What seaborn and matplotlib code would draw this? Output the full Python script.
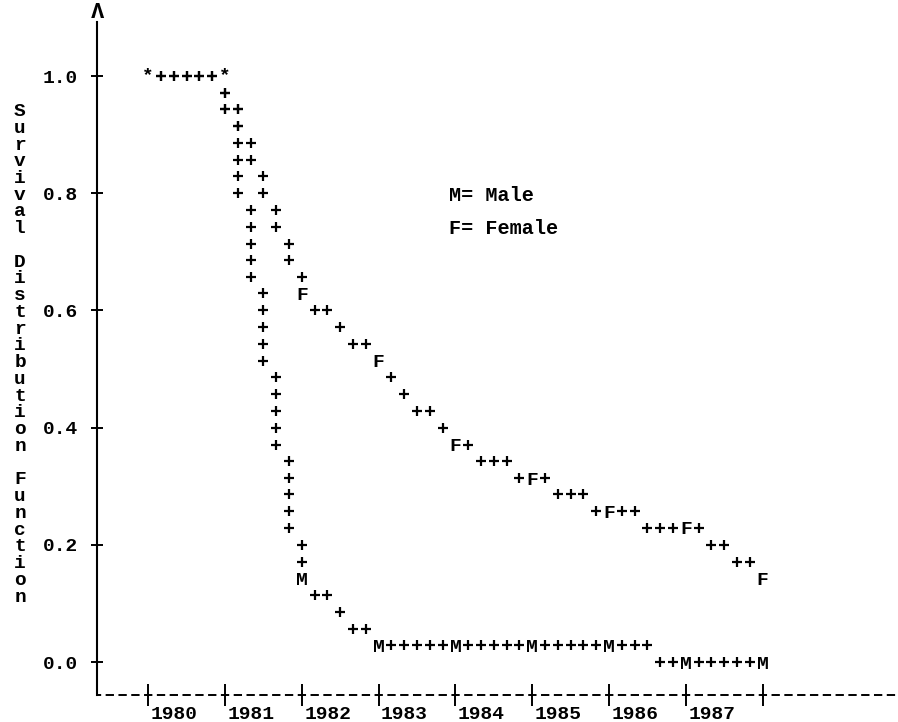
import matplotlib
matplotlib.use('Agg')
import matplotlib.pyplot as plt
import matplotlib.transforms as mtransforms
import pandas as pd
import seaborn as sns

# ── values ───────────────────────────────────────────────────────────────
# '+' steps of each curve: months since Jan 1980, survival estimate
male_months = [2, 4, 6, 8, 10, 12, 12, 14, 14, 14, 14, 14, 14,
               16, 16, 16, 16, 16, 18, 18, 18, 18, 18,
               20, 20, 20, 20, 20, 22, 22, 22, 22, 22, 24, 24,
               26, 28, 30, 32, 34,
               38, 40, 42, 44, 46, 50, 52, 54, 56, 58,
               62, 64, 66, 68, 70, 74, 76, 78,
               80, 82, 86, 88, 90, 92, 94]
male_surv = [1.000, 1.000, 1.000, 1.000, 1.000, 0.971, 0.943, 0.943,
             0.914, 0.886, 0.857, 0.829, 0.800,
             0.771, 0.743, 0.714, 0.686, 0.657,
             0.629, 0.600, 0.571, 0.543, 0.514,
             0.486, 0.457, 0.429, 0.400, 0.371,
             0.343, 0.314, 0.286, 0.257, 0.229, 0.200, 0.171,
             0.114, 0.114, 0.086, 0.057, 0.057,
             0.029, 0.029, 0.029, 0.029, 0.029, 0.029, 0.029, 0.029, 0.029, 0.029,
             0.029, 0.029, 0.029, 0.029, 0.029, 0.029, 0.029, 0.029,
             0.000, 0.000, 0.000, 0.000, 0.000, 0.000, 0.000]

female_months = [2, 4, 6, 8, 10, 12, 12, 14, 14,
                 16, 16, 18, 18, 20, 20, 22, 22, 24,
                 26, 28, 30, 32, 34,
                 38, 40, 42, 44, 46, 50,
                 52, 54, 56, 58, 62, 64, 66, 68,
                 70, 74, 76, 78, 80, 82, 86,
                 88, 90, 92, 94]
female_surv = [1.000, 1.000, 1.000, 1.000, 1.000, 0.971, 0.943, 0.943, 0.914,
               0.886, 0.857, 0.829, 0.800, 0.771, 0.743, 0.714, 0.686, 0.657,
               0.600, 0.600, 0.571, 0.543, 0.543,
               0.486, 0.457, 0.429, 0.429, 0.400, 0.371,
               0.343, 0.343, 0.343, 0.314, 0.314, 0.286, 0.286, 0.286,
               0.257, 0.257, 0.257, 0.229, 0.229, 0.229, 0.229,
               0.200, 0.200, 0.171, 0.171]

# plotted symbols, one per January
symbol_years = [1980, 1981, 1982, 1983, 1984, 1985, 1986, 1987, 1988]
male_symbol_surv = [1.000, 1.000, 0.143, 0.029, 0.029, 0.029, 0.029, 0.000, 0.000]
female_symbol_surv = [1.000, 1.000, 0.629, 0.514, 0.371, 0.314, 0.257, 0.229, 0.143]

year_ticks = [1980, 1981, 1982, 1983, 1984, 1985, 1986, 1987, 1988]
year_labels = ['1980', '1981', '1982', '1983', '1984', '1985', '1986', '1987', '']
surv_ticks = [0.0, 0.2, 0.4, 0.6, 0.8, 1.0]
surv_labels = ['0.0', '0.2', '0.4', '0.6', '0.8', '1.0']
legend_lines = ['M= Male', 'F= Female']
y_title = 'Survival Distribution Function'

# ── style ────────────────────────────────────────────────────────────────
sns.set_style('white')
plt.rcParams['font.family'] = ['Liberation Mono', 'DejaVu Sans Mono']
plt.rcParams['font.weight'] = 'bold'
plt.rcParams['lines.scale_dashes'] = False
FS = 14
INK = 'black'

fig = plt.figure(figsize=(8.98, 7.22), dpi=100)
ax = fig.add_axes([0.1080, 0.0374, 0.8920, 0.9321])

steps = pd.concat([
    pd.DataFrame({'year': [1980 + m / 12 for m in male_months], 'surv': male_surv, 'sex': 'M'}),
    pd.DataFrame({'year': [1980 + m / 12 for m in female_months], 'surv': female_surv, 'sex': 'F'}),
])
sns.scatterplot(data=steps, x='year', y='surv', color=INK, marker='+',
                s=60, linewidth=1.6, edgecolor=None, legend=False, ax=ax)

# symbols: '*' where both groups share a point
for yr, sm, sf in zip(symbol_years, male_symbol_surv, female_symbol_surv):
    if sm == sf:
        ax.text(yr, sm, '*', ha='center', va='center', fontsize=FS, color=INK)
    else:
        ax.text(yr, sm, 'M', ha='center', va='center_baseline', fontsize=FS, color=INK)
        ax.text(yr, sf, 'F', ha='center', va='center_baseline', fontsize=FS, color=INK)

# legend block
for i, line in enumerate(legend_lines):
    ax.text(1983.917, 0.800 - i * 0.057, line, ha='left', va='center_baseline',
            fontsize=FS + 0.5, color=INK)

# ── axes in printer style ───────────────────────────────────────────────
ax.set_xlim(1979.333, 1989.763)
ax.set_ylim(-0.0563, 1.0922)
ax.set_xlabel('')
ax.set_ylabel('')

ax.set_xticks(year_ticks)
ax.set_xticklabels(year_labels)
ax.set_yticks(surv_ticks)
ax.set_yticklabels(surv_labels)

ax.tick_params(axis='x', bottom=True, direction='inout', length=16, width=1.4,
               pad=0, labelsize=FS, colors=INK)
ax.tick_params(axis='y', left=True, direction='inout', length=9, width=1.4,
               pad=9, labelsize=FS, colors=INK)
shift = mtransforms.ScaledTranslation(0.26, 0, fig.dpi_scale_trans)
for lab in ax.get_xticklabels():
    lab.set_transform(lab.get_transform() + shift)

for side in ['top', 'right']:
    ax.spines[side].set_visible(False)
ax.spines['left'].set_color(INK)
ax.spines['left'].set_linewidth(1.5)
bottom = ax.spines['bottom']
bottom.set_color(INK)
bottom.set_linewidth(1.4)
bottom.set_capstyle('butt')
# one dash per print column
bottom.set_linestyle((3.0, (5.99, 3.23)))

# arrow head on top of the vertical axis
fig.text(0.1080, 1 - 13 / 722, 'Λ', ha='center', va='center', fontsize=FS + 2,
         color=INK)

# vertical title, one letter per print row
title_tf = mtransforms.blended_transform_factory(fig.transFigure, ax.transData)
for i, ch in enumerate(y_title):
    ax.text(20 / 898, 1 - (2 + i) / 35, ch, transform=title_tf, ha='center',
            va='center_baseline', fontsize=FS, color=INK)

fig.savefig('out.png', dpi=100)
